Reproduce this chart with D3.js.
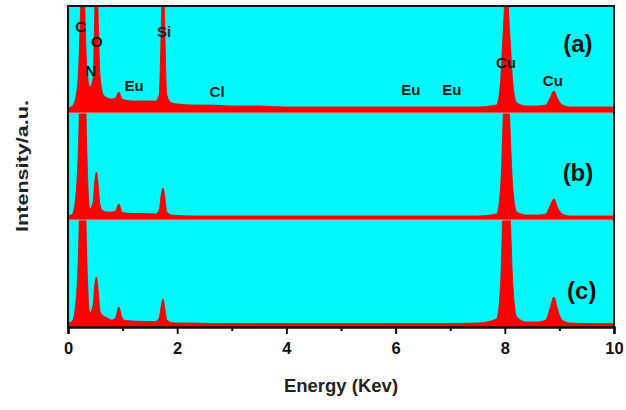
<!DOCTYPE html>
<html><head><meta charset="utf-8">
<script src="https://cdn.jsdelivr.net/npm/d3@7"></script>
<style>
body{margin:0;background:#fff}
svg{display:block}
text{font-family:"Liberation Sans",Arial,sans-serif;font-weight:bold}
</style>
</head><body>
<svg id="chart" width="626" height="410"></svg>
<script>
// ---- data ----
const energy = [0,0.08,0.15,0.2,0.24,0.27,0.3,0.34,0.4,0.46,0.49,0.52,0.55,0.59,0.65,0.72,0.8,0.87,0.93,0.99,1.05,1.2,1.4,1.6,1.67,1.71,1.74,1.77,1.81,1.9,2.0,2.3,2.6,3.0,3.5,4.0,5.0,6.0,7.0,7.5,7.85,7.92,7.97,8.03,8.09,8.15,8.22,8.4,8.6,8.75,8.82,8.9,8.97,9.05,9.2,9.5,10.0];
const seriesA = [5,7,18,50,120,170,120,50,26,35,100,170,100,35,18,15,14,15,21,14,13,12,12,12,18,90,170,90,18,10,9,8,8,7,7,6,6,6,6,6,8,30,80,130,80,28,10,7,7,8,14,22,14,8,6,6,6];
const seriesB = [4,6,28,90,200,300,200,80,11,18,38,48,36,14,9,8,8,9,16,8,7,6.5,6.5,6,10,26,32,24,8,5,4.5,4,4,4,4,4,4,4,4,4,6,30,100,200,100,30,8,5,5,6,13,21,12,6,4,4,4];
const seriesC = [4,6,28,90,200,300,200,80,14,22,42,50,38,15,11,9,7,9,20,9,6.5,6,5.5,5.5,9,22,28,20,7,4.5,4,4,3.5,3.5,3.5,3.5,3.5,3.5,3.5,4,8,40,130,250,130,40,10,5,5,7,17,30,17,7,4,3.5,3.5];
const panelLabels = ["(a)","(b)","(c)"];
const xTicks = [0,2,4,6,8,10];
const xMinorTicks = [1,3,5,7,9];
const peakLabels = [
  {t:"C", e:0.23, v:87},
  {t:"O", e:0.526, v:72},
  {t:"N", e:0.415, v:43},
  {t:"Eu", e:1.21, v:28},
  {t:"Si", e:1.76, v:82},
  {t:"Cl", e:2.73, v:22},
  {t:"Eu", e:6.28, v:24},
  {t:"Eu", e:7.03, v:24},
  {t:"Cu", e:8.02, v:51},
  {t:"Cu", e:8.88, v:33}
];

// ---- layout ----
const svg = d3.select("#chart");
const pLeft = 68, pRight = 614, pTop = 6, pBottom = 327;
const panelH = (pBottom - pTop) / 3;
const x = d3.scaleLinear().domain([0,10]).range([pLeft,pRight]);
const allSeries = [seriesA, seriesB, seriesC];
const labelPos = [{e:9.34,v:70},{e:9.34,v:48},{e:9.41,v:37}];

allSeries.forEach((s,i)=>{
  const y0 = pTop + i*panelH;
  const y = d3.scaleLinear().domain([0,panelH]).range([y0+panelH, y0]);
  const cid = "clip"+i;
  svg.append("clipPath").attr("id",cid).append("rect")
    .attr("x",pLeft).attr("y",y0).attr("width",pRight-pLeft).attr("height",panelH);
  svg.append("rect").attr("x",pLeft).attr("y",y0).attr("width",pRight-pLeft).attr("height",panelH)
    .attr("fill","#00f8f8");
  const data = energy.map((e,k)=>[e,s[k]]);
  const area = d3.area().x(d=>x(d[0])).y0(y(0)).y1(d=>y(d[1])).curve(d3.curveMonotoneX);
  svg.append("path").datum(data).attr("clip-path","url(#"+cid+")")
    .attr("d",area).attr("fill","#ff0000").attr("stroke","#f00000").attr("stroke-width",0.8);
  if(i>0){
    svg.append("line").attr("x1",pLeft).attr("x2",pRight).attr("y1",y0).attr("y2",y0)
      .attr("stroke","#c9a3a3").attr("stroke-width",1.2);
  }
  svg.append("text").attr("x",x(labelPos[i].e)).attr("y",y(labelPos[i].v))
    .attr("text-anchor","middle").attr("dominant-baseline","central")
    .attr("font-size",24).attr("fill","#111").text(panelLabels[i]);
  if(i===0){
    svg.selectAll(".pk").data(peakLabels).enter().append("text")
      .attr("x",d=>x(d.e)).attr("y",d=>y(d.v))
      .attr("text-anchor","middle").attr("dominant-baseline","central")
      .attr("font-size",15).attr("fill","#1a1a1a").text(d=>d.t);
  }
});

// frame
svg.append("path")
  .attr("d",`M${pLeft},${pBottom}V${pTop}H${pRight}V${pBottom}`)
  .attr("fill","none").attr("stroke","#111").attr("stroke-width",2);

// x axis
const ax = svg.append("g").attr("transform",`translate(0,${pBottom})`)
  .call(d3.axisBottom(x).tickValues(xTicks).tickSize(7).tickPadding(8).tickFormat(d3.format("d")));
ax.select(".domain").attr("stroke","#111").attr("stroke-width",2.5);
ax.selectAll(".tick line").attr("stroke","#111").attr("stroke-width",2);
ax.selectAll(".tick text").attr("font-size",16.5).attr("fill","#111")
  .attr("font-family","'Liberation Sans',Arial,sans-serif").attr("font-weight","bold");
const axm = svg.append("g").attr("transform",`translate(0,${pBottom})`)
  .call(d3.axisBottom(x).tickValues(xMinorTicks).tickSize(4).tickFormat(""));
axm.select(".domain").remove();
axm.selectAll(".tick line").attr("stroke","#111").attr("stroke-width",2);

// axis titles
svg.append("text").attr("x",(pLeft+pRight)/2).attr("y",385)
  .attr("text-anchor","middle").attr("dominant-baseline","central")
  .attr("font-size",18.5).attr("fill","#222").text("Energy (Kev)");
svg.append("text").attr("transform",`translate(22,166) rotate(-90)`)
  .attr("text-anchor","middle").attr("dominant-baseline","central")
  .attr("font-size",17).attr("textLength",132).attr("lengthAdjust","spacingAndGlyphs")
  .attr("fill","#222").text("Intensity/a.u.");
</script>
</body></html>
